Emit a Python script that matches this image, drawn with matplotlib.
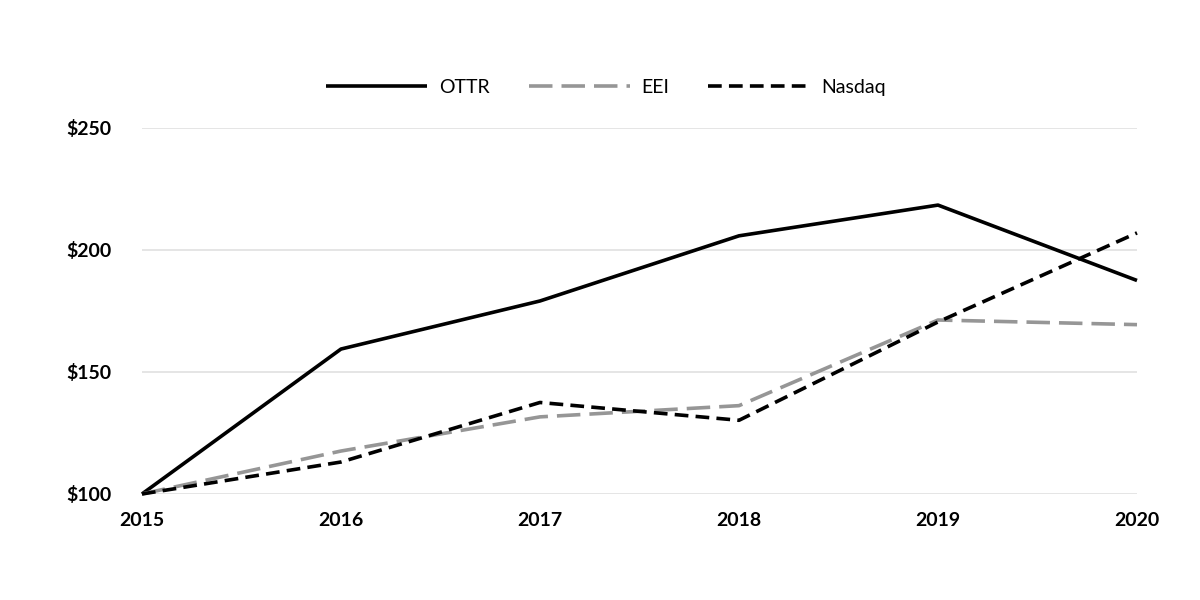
import matplotlib
matplotlib.use("Agg")
import matplotlib.pyplot as plt

# values (index: 2015 = $100)
years = [2015, 2016, 2017, 2018, 2019, 2020]
ottr = [100, 159.4, 179.1, 205.8, 218.4, 187.5]
eei = [100, 117.6, 131.6, 136.2, 171.3, 169.4]
nasdaq = [100, 113.1, 137.5, 130.2, 170.5, 207.0]
y_ticks = [100, 150, 200, 250]

plt.rcParams['font.family'] = ['Lato', 'DejaVu Sans']

fig = plt.figure(figsize=(12, 6), dpi=100)
ax = fig.add_axes([0.1183, 0.1767, 0.8292, 0.61])

ax.plot(years, ottr, color='black', lw=2.6, label='OTTR', clip_on=False,
        solid_capstyle='butt')
ax.plot(years, eei, color='#969696', lw=2.6, label='EEI', clip_on=False,
        dashes=(6.5, 2.5))
ax.plot(years, nasdaq, color='black', lw=2.6, label='Nasdaq', clip_on=False,
        dashes=(3.8, 2.0))

ax.set_xlim(2015, 2020)
ax.set_ylim(100, 250)
ax.set_xticks(years)
ax.set_xticklabels([str(y) for y in years], fontsize=14, fontweight='bold')
ax.set_yticks(y_ticks)
ax.set_yticklabels(['$%d' % v for v in y_ticks], fontsize=14, fontweight='bold')
ax.tick_params(axis='both', length=0)
ax.tick_params(axis='y', pad=22)
ax.tick_params(axis='x', pad=13)

ax.grid(axis='y', color='#e0e0e0', lw=1.2)
ax.set_axisbelow(True)
for s in ax.spines.values():
    s.set_visible(False)

leg = fig.legend(loc='center', bbox_to_anchor=(0.505, 0.855), ncol=3,
                 frameon=False, fontsize=14, handlelength=5.2,
                 handletextpad=0.6, columnspacing=2.0)

fig.savefig('out.png', dpi=100)
